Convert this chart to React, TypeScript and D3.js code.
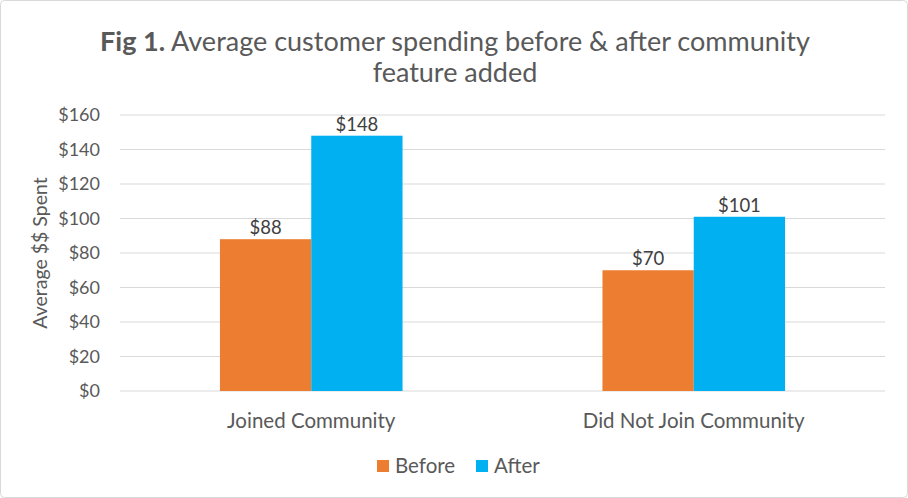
import React, { useEffect, useRef } from 'react';
import * as d3 from 'd3';

const categories = ['Joined Community', 'Did Not Join Community'];
const seriesNames = ['Before', 'After'];
const beforeValues = [88, 70];
const afterValues = [148, 101];
const yTicks = [0, 20, 40, 60, 80, 100, 120, 140, 160];
const colors = ['#ED7D31', '#00B0F0'];

const W = 908;
const H = 498;
const FONT = 'Lato, "Open Sans", sans-serif';
const TEXT = '#595959';

const App = () => {
  const ref = useRef<SVGSVGElement>(null);

  useEffect(() => {
    const svg = d3.select(ref.current);
    svg.selectAll('*').remove();

    const margin = { top: 115, right: 23, bottom: 107, left: 120 };
    const width = W - margin.left - margin.right;
    const height = H - margin.top - margin.bottom;

    // chart border
    svg.append('rect')
      .attr('x', 0.5).attr('y', 0.5)
      .attr('width', W - 1).attr('height', H - 1)
      .attr('rx', 4)
      .attr('fill', '#fff')
      .attr('stroke', '#d9d9d9');

    const g = svg.append('g').attr('transform', `translate(${margin.left},${margin.top})`);

    const x0 = d3.scaleBand().domain(categories).range([0, width]);
    const y = d3.scaleLinear().domain([0, 160]).range([height, 0]);
    const barW = x0.bandwidth() / 4.19;
    const x1 = d3.scaleBand().domain(seriesNames).range([0, barW * 2]);

    // gridlines
    g.selectAll('.grid')
      .data(yTicks)
      .enter().append('line')
      .attr('x1', 0).attr('x2', width)
      .attr('y1', d => y(d)).attr('y2', d => y(d))
      .attr('stroke', '#d9d9d9')
      .attr('stroke-width', 1);

    // y tick labels
    g.selectAll('.ytick')
      .data(yTicks)
      .enter().append('text')
      .attr('x', -20)
      .attr('y', d => y(d))
      .attr('dy', '0.35em')
      .attr('text-anchor', 'end')
      .attr('font-family', FONT)
      .attr('font-size', 18)
      .attr('fill', TEXT)
      .text(d => `$${d}`);

    const rows = categories.map((c, i) => ({ cat: c, vals: [beforeValues[i], afterValues[i]] }));

    const groups = g.selectAll('.grp')
      .data(rows)
      .enter().append('g')
      .attr('transform', d => `translate(${x0(d.cat)! + x0.bandwidth() / 2 - barW},0)`);

    groups.selectAll('rect')
      .data(d => d.vals.map((v, i) => ({ key: seriesNames[i], v, i })))
      .enter().append('rect')
      .attr('x', d => x1(d.key)!)
      .attr('y', d => y(d.v))
      .attr('width', x1.bandwidth())
      .attr('height', d => height - y(d.v))
      .attr('fill', d => colors[d.i]);

    groups.selectAll('.lbl')
      .data(d => d.vals.map((v, i) => ({ key: seriesNames[i], v, i })))
      .enter().append('text')
      .attr('x', d => x1(d.key)! + x1.bandwidth() / 2)
      .attr('y', d => y(d.v) - 5)
      .attr('text-anchor', 'middle')
      .attr('font-family', FONT)
      .attr('font-size', 18.5)
      .attr('fill', '#404040')
      .text(d => `$${d.v}`);

    // category labels
    g.selectAll('.cat')
      .data(categories)
      .enter().append('text')
      .attr('x', d => x0(d)! + x0.bandwidth() / 2)
      .attr('y', height + 37)
      .attr('text-anchor', 'middle')
      .attr('font-family', FONT)
      .attr('font-size', 20.5)
      .attr('fill', TEXT)
      .text(d => d);

    // y axis title
    svg.append('text')
      .attr('transform', `translate(47,${margin.top + height / 2}) rotate(-90)`)
      .attr('text-anchor', 'middle')
      .attr('font-family', FONT)
      .attr('font-size', 19.5)
      .attr('fill', TEXT)
      .text('Average $$ Spent');

    // title
    const title = svg.append('text')
      .attr('x', 455)
      .attr('y', 51)
      .attr('text-anchor', 'middle')
      .attr('font-family', FONT)
      .attr('font-size', 27)
      .attr('fill', TEXT);
    title.append('tspan').attr('font-weight', 'bold').text('Fig 1.');
    title.append('tspan').text(' Average customer spending before & after community');
    svg.append('text')
      .attr('x', 455)
      .attr('y', 82)
      .attr('text-anchor', 'middle')
      .attr('font-family', FONT)
      .attr('font-size', 27)
      .attr('fill', TEXT)
      .text('feature added');

    // legend
    const legendX = [377, 476];
    seriesNames.forEach((name, i) => {
      svg.append('rect')
        .attr('x', legendX[i]).attr('y', 460)
        .attr('width', 12).attr('height', 12)
        .attr('fill', colors[i]);
      svg.append('text')
        .attr('x', legendX[i] + 18)
        .attr('y', 466)
        .attr('dy', '0.35em')
        .attr('font-family', FONT)
        .attr('font-size', 20.5)
        .attr('fill', TEXT)
        .text(name);
    });
  }, []);

  return (
    <svg
      ref={ref}
      width={W}
      height={H}
      style={{ position: 'absolute', left: 0, top: 0 }}
    />
  );
};

export default App;
